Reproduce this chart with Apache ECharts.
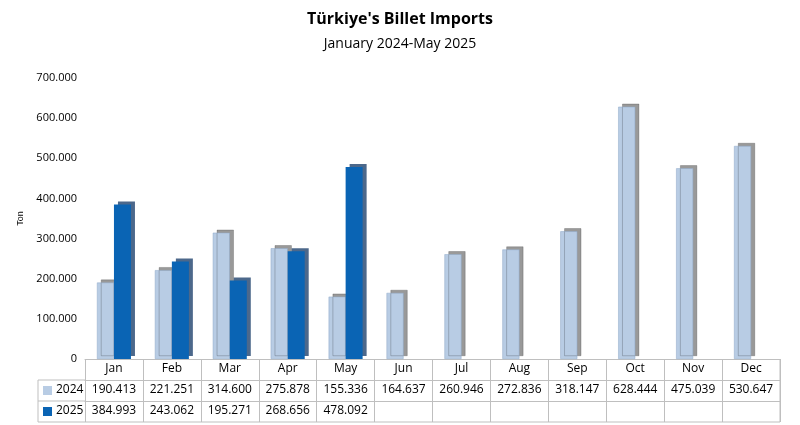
<!DOCTYPE html>
<html><head><meta charset="utf-8">
<script src="https://cdn.jsdelivr.net/npm/echarts@6/dist/echarts.min.js"></script>
<style>html,body{margin:0;padding:0;background:#fff}#c{width:800px;height:425px}</style>
</head><body><div id="c"></div>
<script>
const months=['Jan','Feb','Mar','Apr','May','Jun','Jul','Aug','Sep','Oct','Nov','Dec'];
const v2024=[190413,221251,314600,275878,155336,164637,260946,272836,318147,628444,475039,530647];
const v2025=[384993,243062,195271,268656,478092,null,null,null,null,null,null,null];
const fmt=v=>v==null?'':String(v).replace(/\B(?=(\d{3})+(?!\d))/g,'.');
const chart=echarts.init(document.getElementById('c'));
const font='Open Sans';
const tableAxis=(data,off)=>({type:'category',data:data,position:'bottom',offset:off,
  axisLine:{show:true,lineStyle:{color:'#bfbfbf'}},axisTick:{show:true,length:21,lineStyle:{color:'#bfbfbf'}},
  axisLabel:{color:'#000',fontSize:12,fontFamily:font,margin:4}});
chart.setOption({
  animation:false,
  title:[{text:"Türkiye's Billet Imports",left:'center',top:6,textStyle:{fontSize:16,fontWeight:'bold',fontFamily:font,color:'#000'}},
         {text:'January 2024-May 2025',left:'center',top:32,textStyle:{fontSize:14,fontWeight:'normal',fontFamily:font,color:'#000'}}],
  grid:{left:85,right:20,top:78,bottom:66},
  xAxis:[tableAxis(months,0),tableAxis(v2024.map(fmt),21),tableAxis(v2025.map(fmt),42)],
  yAxis:{type:'value',min:0,max:700000,interval:100000,name:'Ton',nameLocation:'middle',nameGap:55,
    nameTextStyle:{fontSize:9,color:'#000'},
    axisLabel:{formatter:v=>v===0?'0':fmt(v),color:'#000',fontSize:11,fontFamily:font},
    axisLine:{show:false},splitLine:{show:false}},
  series:[
    {type:'bar',data:v2024,barWidth:17,barGap:'0%',itemStyle:{color:'#b8cce4',borderColor:'#8ea9c8',borderWidth:0.5,shadowColor:'rgba(0,0,0,0.4)',shadowOffsetX:4,shadowOffsetY:-3,shadowBlur:0}},
    {type:'bar',data:v2025,barWidth:17,itemStyle:{color:'#0a64b4',shadowColor:'rgba(0,40,90,0.7)',shadowOffsetX:4,shadowOffsetY:-3,shadowBlur:0}}
  ],
  graphic:[
    {type:'line',shape:{x1:38,y1:422,x2:780,y2:422},style:{stroke:'#bfbfbf'}},
    {type:'line',shape:{x1:38,y1:380,x2:38,y2:422},style:{stroke:'#bfbfbf'}},
    {type:'line',shape:{x1:38,y1:380,x2:85,y2:380},style:{stroke:'#bfbfbf'}},
    {type:'line',shape:{x1:38,y1:401,x2:85,y2:401},style:{stroke:'#bfbfbf'}},
    {type:'line',shape:{x1:780,y1:359,x2:780,y2:422},style:{stroke:'#bfbfbf'}},
    {type:'rect',shape:{x:43,y:386,width:9,height:9},style:{fill:'#b8cce4'}},
    {type:'text',x:56,y:384,style:{text:'2024',fontSize:12,fontFamily:font,fill:'#000'}},
    {type:'rect',shape:{x:43,y:407,width:9,height:9},style:{fill:'#0a64b4'}},
    {type:'text',x:56,y:405,style:{text:'2025',fontSize:12,fontFamily:font,fill:'#000'}}
  ]
});
</script></body></html>
